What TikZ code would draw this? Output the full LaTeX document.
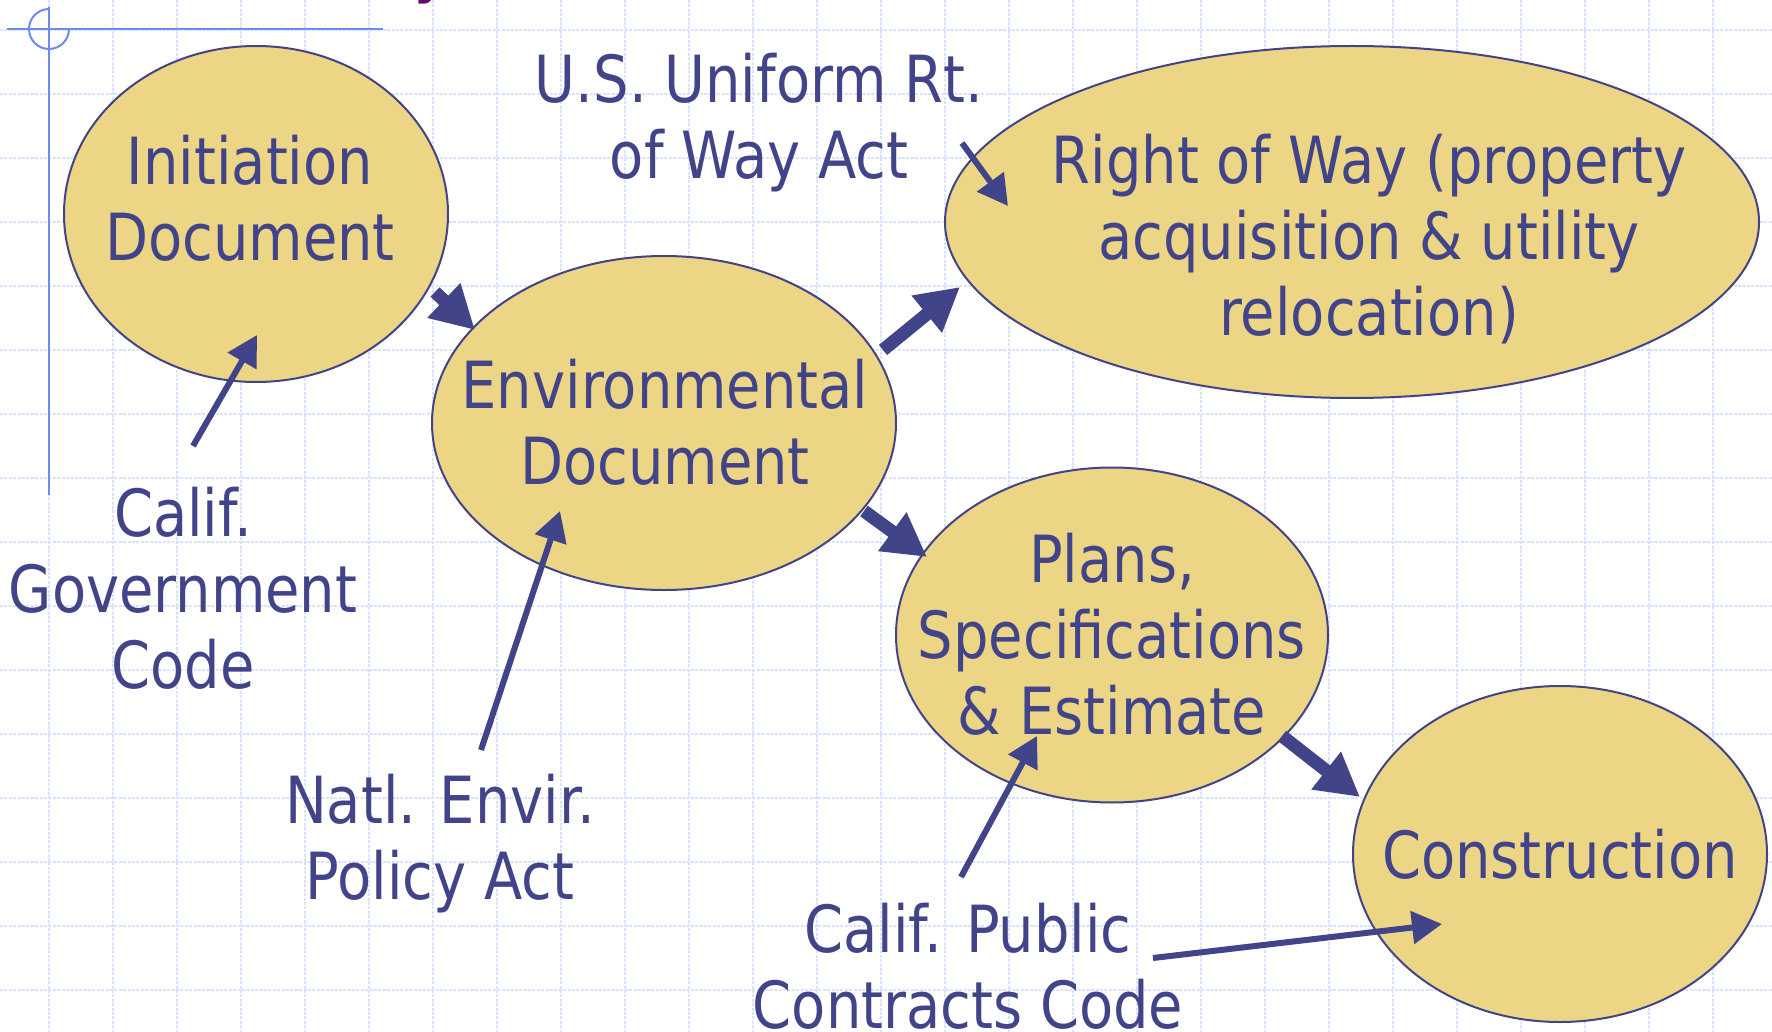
\documentclass[tikz,border=0pt]{standalone}
\usepackage{fontspec}
\newfontfamily\tah[FakeStretch=0.86]{DejaVu Sans}
\usetikzlibrary{shapes.geometric,arrows.meta,calc}
\definecolor{ink}{RGB}{65,68,137}
\definecolor{gold}{RGB}{236,214,134}
\definecolor{gridc}{RGB}{218,227,253}
\definecolor{cross}{RGB}{110,140,240}
\definecolor{titlec}{RGB}{104,8,104}
\begin{document}
\begin{tikzpicture}[x=1pt,y=-1pt,
  oval/.style={ellipse, draw=ink, line width=2pt, fill=gold, inner sep=0pt},
  lbl/.style={font=\tah\fontsize{65}{76}\selectfont, text=ink, align=center, inner sep=0pt, anchor=base},
  bigarrow/.style={draw=ink, line width=13pt, -{Triangle[width=45pt,length=43pt]}},
  thinarrow/.style={draw=ink, line width=6pt, -{Triangle[width=32pt,length=30pt]}},
  gridline/.style={gridc, line width=1.2pt, dash pattern=on 3pt off 1.4pt},
  crossline/.style={cross, line width=2pt}
]
\useasboundingbox (0,0) rectangle (1772,1032);
\fill[white] (0,0) rectangle (1772,1032);
% grid
\foreach \x in {49,113,...,1772} \draw[gridline] (\x,0) -- (\x,1032);
\foreach \y in {30,94,...,1032} \draw[gridline] (0,\y) -- (1772,\y);
% corner mark
\draw[crossline] (7,29) -- (383,29);
\draw[crossline] (49,7) -- (49,495);
\draw[crossline] (49,9) arc[start angle=90, end angle=360, radius=20pt];
% cut-off title glyph
\node[font=\tah\fontsize{80}{80}\selectfont, text=titlec, anchor=base, inner sep=0pt] (title) at (434,-12) {y};
% ellipses
\node[oval, minimum width=384pt, minimum height=336pt] (init) at (256,214) {};
\node[oval, minimum width=464pt, minimum height=334pt] (env) at (664,423) {};
\node[oval, minimum width=814pt, minimum height=352pt] (row) at (1352,222) {};
\node[oval, minimum width=432pt, minimum height=335pt] (pse) at (1112,635) {};
\node[oval, minimum width=414pt, minimum height=336pt] (cons) at (1560,854) {};
% texts (anchored at the baseline of the last line)
\node[lbl] (initT) at (250,261) {Initiation\\Document};
\node[lbl] (envT) at (665,484) {Environmental\\Document};
\node[lbl] (rowT) at (1369,335) {Right of Way (property\\acquisition \& utility\\relocation)};
\node[lbl] (pseT) at (1112,734) {Plans,\\Specifications\\\& Estimate};
\node[lbl] (consT) at (1560,878) {Construction};
\node[lbl] (usT) at (759,179) {U.S. Uniform Rt.\\of Way Act};
\node[lbl] (cgT) at (183,688) {Calif.\\Government\\Code};
\node[lbl] (neT) at (440,899) {Natl. Envir.\\Policy Act};
\node[lbl] (cpT) at (968,1028) {Calif. Public\\Contracts Code};
% process arrows
\draw[bigarrow] ($(init)+(179,78)$) -- ($(env)+(-189,-93)$);
\draw[bigarrow] ($(env)+(219,-73)$) -- ($(row)+(-392,65)$);
\draw[bigarrow] ($(env)+(200,88)$) -- ($(pse)+(-185,-78)$);
\draw[bigarrow] ($(pse)+(170,101)$) -- ($(cons)+(-200,-57)$);
% law arrows
\draw[thinarrow] ($(cgT.base)+(10,-242)$) -- ($(init)+(1,121)$);
\draw[thinarrow] ($(neT.base)+(41,-149)$) -- ($(env)+(-104,88)$);
\draw[thinarrow] ($(usT.base)+(203,-36)$) -- ($(row)+(-344,-16)$);
\draw[thinarrow] ($(cpT.base)+(-7,-151)$) -- ($(pse)+(-75,101)$);
\draw[thinarrow] ($(cpT.base)+(185,-70)$) -- ($(cons)+(-118,70)$);
\end{tikzpicture}
\end{document}
